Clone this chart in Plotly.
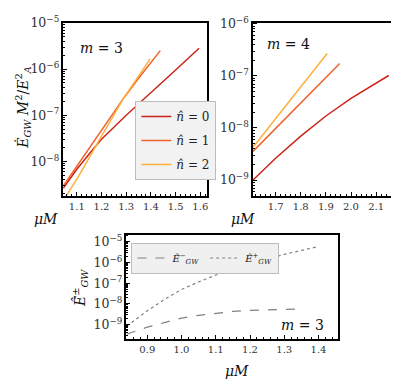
import plotly.graph_objects as go

# ---------------- data ----------------
# m = 3 panel (top-left)
m3_x_n0 = [1.045, 1.1, 1.174, 1.2, 1.3, 1.4, 1.5, 1.595]
m3_y_n0 = [2.63e-9, 6.76e-9, 2.09e-8, 3.02e-8, 1.0e-7, 3.16e-7, 9.55e-7, 2.82e-6]
m3_x_n1 = [1.045, 1.1, 1.2, 1.291, 1.35, 1.438]
m3_y_n1 = [2.95e-9, 7.94e-9, 4.9e-8, 2.4e-7, 6.31e-7, 2.51e-6]
m3_x_n2 = [1.056, 1.108, 1.2, 1.291, 1.397]
m3_y_n2 = [1.75e-9, 4.9e-9, 3.55e-8, 2.4e-7, 1.66e-6]

# m = 4 panel (top-right)
m4_x_n0 = [1.61, 1.7, 1.8, 1.9, 2.0, 2.1, 2.15]
m4_y_n0 = [1.0e-9, 2.63e-9, 6.98e-9, 1.70e-8, 3.72e-8, 7.41e-8, 1.02e-7]
m4_x_n1 = [1.61, 1.71, 1.81, 1.9, 1.955]
m4_y_n1 = [3.55e-9, 1.10e-8, 3.39e-8, 9.33e-8, 1.74e-7]
m4_x_n2 = [1.61, 1.7, 1.8, 1.905]
m4_y_n2 = [4.27e-9, 1.51e-8, 6.17e-8, 2.69e-7]

# bottom panel, m = 3
pm_x_plus = [0.84, 0.9, 0.95, 1.0, 1.05, 1.1, 1.15, 1.2, 1.25, 1.3, 1.35, 1.4]
pm_y_plus = [8.51e-10, 4.68e-9, 1.66e-8, 5.01e-8, 1.17e-7, 2.51e-7, 4.79e-7, 8.71e-7,
             1.51e-6, 2.51e-6, 3.98e-6, 6.03e-6]
pm_x_minus = [0.84, 0.9, 0.95, 1.0, 1.05, 1.1, 1.15, 1.2, 1.25, 1.3, 1.335]
pm_y_minus = [3.47e-10, 7.59e-10, 1.26e-9, 2.09e-9, 2.82e-9, 3.63e-9, 4.37e-9, 4.9e-9,
              5.25e-9, 5.5e-9, 5.62e-9]

labels_n = ["<i>n\u0302</i> = 0", "<i>n\u0302</i> = 1", "<i>n\u0302</i> = 2"]
colors_n = ["#cc2419", "#f0622c", "#fdb03c"]

W, H = 399, 379
SERIF = "DejaVu Serif"

def px_x(a, b):
    return [a / W, b / W]

def px_y(top, bottom):
    return [1 - bottom / H, 1 - top / H]

fig = go.Figure()

for i, (xs, ys, name, col) in enumerate(zip([m3_x_n0, m3_x_n1, m3_x_n2], [m3_y_n0, m3_y_n1, m3_y_n2], labels_n, colors_n)):
    fig.add_trace(go.Scatter(x=xs, y=ys, mode="lines", name=name, line=dict(color=col, width=1.5),
                             xaxis="x", yaxis="y", legend="legend", legendgroup="g%d" % i))
for xs, ys, col in zip([m4_x_n0, m4_x_n1, m4_x_n2], [m4_y_n0, m4_y_n1, m4_y_n2], colors_n):
    fig.add_trace(go.Scatter(x=xs, y=ys, mode="lines", showlegend=False, line=dict(color=col, width=1.5),
                             xaxis="x2", yaxis="y2"))

fig.add_trace(go.Scatter(x=pm_x_minus, y=pm_y_minus, mode="lines",
                         name="<i>E\u0302\u0307</i><sup>\u2212</sup><sub><i>GW</i></sub>",
                         line=dict(color="#808080", width=1.2, dash="dash"),
                         xaxis="x3", yaxis="y3", legend="legend2"))
fig.add_trace(go.Scatter(x=pm_x_plus, y=pm_y_plus, mode="lines",
                         name="<i>E\u0302\u0307</i><sup>+</sup><sub><i>GW</i></sub>",
                         line=dict(color="#808080", width=1.2, dash="dot"),
                         xaxis="x3", yaxis="y3", legend="legend2"))

tickfont = dict(family=SERIF, size=10, color="#333333")

def xaxis(domain, rng, anchor):
    return dict(domain=domain, range=rng, anchor=anchor, showgrid=False, zeroline=False,
                showline=True, mirror=True, linecolor="black", linewidth=2,
                ticks="inside", ticklen=4, tickcolor="black", dtick=0.1, tick0=0,
                tickformat=".1f", tickfont=tickfont, ticklabeloverflow="allow",
                minor=dict(ticks="inside", ticklen=2, dtick=0.02, tickcolor="black"))

def yaxis(domain, rng, anchor):
    return dict(domain=domain, range=rng, anchor=anchor, type="log", showgrid=False, zeroline=False,
                showline=True, mirror=True, linecolor="black", linewidth=2,
                ticks="inside", ticklen=4, tickcolor="black", dtick=1,
                exponentformat="power", tickfont=tickfont, ticklabeloverflow="allow",
                minor=dict(ticks="inside", ticklen=2, tickcolor="black"))

fig.update_layout(
    width=W, height=H, margin=dict(l=0, r=0, t=0, b=0),
    paper_bgcolor="white", plot_bgcolor="white",
    xaxis=xaxis(px_x(55.5, 199.5), [1.045, 1.625], "y"),
    yaxis=yaxis(px_y(6, 183), [-8.74, -5.0], "x"),
    xaxis2=xaxis(px_x(246, 393), [1.609, 2.191], "y2"),
    yaxis2=yaxis(px_y(6, 183), [-9.3, -5.98], "x2"),
    xaxis3=xaxis(px_x(119, 332), [0.839, 1.458], "y3"),
    yaxis3=yaxis(px_y(223, 330), [-9.7, -4.65], "x3"),
    legend=dict(x=128 / W, y=1 - 86 / H, xanchor="left", yanchor="top",
                bgcolor="#f2f2f2", bordercolor="#bdbdbd", borderwidth=1,
                font=dict(family=SERIF, size=12, color="#222222"),
                itemwidth=30, tracegroupgap=5),
    legend2=dict(x=124 / W, y=1 - 231 / H, xanchor="left", yanchor="top",
                 orientation="h", bgcolor="#f0f0f0", bordercolor="#bdbdbd", borderwidth=1,
                 font=dict(family=SERIF, size=10, color="#222222"), itemwidth=30),
)

ann_font = dict(family=SERIF, size=14, color="#111111")
annotations = [
    dict(x=94 / W, y=1 - 32 / H, text="<i>m</i> = 3"),
    dict(x=282 / W, y=1 - 28 / H, text="<i>m</i> = 4"),
    dict(x=296 / W, y=1 - 315 / H, text="<i>m</i> = 3"),
    dict(x=38 / W, y=1 - 207 / H, text="<i>\u03bcM</i>"),
    dict(x=236 / W, y=1 - 207 / H, text="<i>\u03bcM</i>"),
    dict(x=230 / W, y=1 - 363 / H, text="<i>\u03bcM</i>"),
    dict(x=15 / W, y=1 - 93 / H, textangle=-90,
         text="<i>\u0116<sub>GW</sub> M</i><sup>2</sup>/<i>E</i><sup>2</sup><sub><i>A</i></sub>"),
    dict(x=73 / W, y=1 - 278 / H, textangle=-90,
         text="<i>E\u0302\u0307</i><sup>\u00b1</sup><sub><i>GW</i></sub>"),
]
for a in annotations:
    a.update(xref="paper", yref="paper", showarrow=False, font=ann_font,
             xanchor="center", yanchor="middle")
fig.update_layout(annotations=annotations)

fig.write_html("out.html")
